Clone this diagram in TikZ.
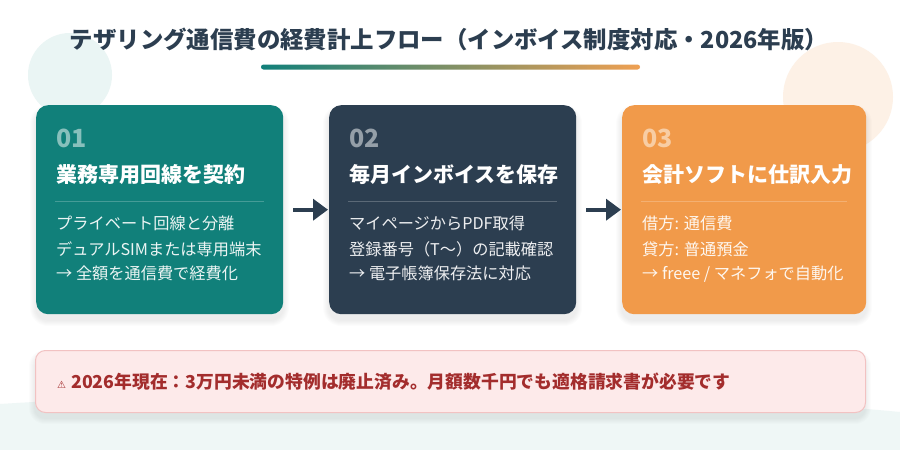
\documentclass[tikz,border=0pt]{standalone}
\usepackage{fontspec}
\setmainfont{Noto Sans CJK JP}
\newfontfamily\symfont{DejaVu Sans}
\usetikzlibrary{calc,arrows.meta}
\definecolor{navy}{HTML}{2C3E50}
\definecolor{tealc}{HTML}{11807A}
\definecolor{orangec}{HTML}{F19A4A}
\definecolor{gradorange}{HTML}{EFA052}
\definecolor{lteal}{HTML}{EAF5F4}
\definecolor{lpeach}{HTML}{FDF1E6}
\definecolor{wavec}{HTML}{EFF7F6}
\definecolor{alertbg}{HTML}{FDEAEA}
\definecolor{alertbd}{HTML}{F2C2C2}
\definecolor{alerttx}{HTML}{A32D2D}
\newcommand{\fs}[1]{\fontsize{#1pt}{#1pt}\selectfont}
\newcommand{\softshadow}[5]{% x1 y1 x2 y2 radius
  \foreach \s in {1,...,6}{
    \fill[black, opacity=0.012, rounded corners=#5pt+\s pt] ($(#1,#2)+(-\s,-\s+6)$) rectangle ($(#3,#4)+(\s,\s+6)$);
  }}
\begin{document}
\begin{tikzpicture}[x=1pt,y=-1pt,
  card/.style={rectangle, rounded corners=12pt, minimum width=247pt, minimum height=209pt, anchor=north west, inner sep=0pt},
  numtxt/.style={anchor=base west, inner sep=0pt, font=\fs{25}\bfseries},
  ttltxt/.style={anchor=base west, inner sep=0pt, font=\fs{21}\bfseries},
  bodytxt/.style={anchor=base west, inner sep=0pt, font=\fs{16.2}},
  flowarrow/.style={draw=navy, line width=4pt, -{Triangle[length=15pt,width=21pt]}, shorten <=10pt, shorten >=1pt}
]
\useasboundingbox (0,0) rectangle (900,450);
\fill[white] (0,0) rectangle (900,450);
% background decorations
\fill[wavec] (0,450) -- (0,404) .. controls (250,388) and (650,388) .. (900,412) -- (900,450) -- cycle;
\fill[lteal] (70,75) circle (42);
\fill[lpeach] (838,97) circle (55);
% title
\node[anchor=base, inner sep=0pt, text=navy, font=\fs{23.4}\bfseries] (title) at (449,48.5)
  {テザリング通信費の経費計上フロー（インボイス制度対応・2026年版）};
\shade[left color=tealc, right color=gradorange, rounded corners=2.5pt] (261,64.5) rectangle (640,69.5);
% shadows
\softshadow{36}{105}{283}{314}{12}
\softshadow{329}{105}{576}{314}{12}
\softshadow{622}{105}{866}{314}{12}
\softshadow{35}{350}{865}{412}{10}
% cards
\newcommand{\card}[9]{%
  \node[card, fill=#3, minimum width=#9pt] (#1) at (#2,105) {};
  \node[numtxt, text=white!50!#3] (#1num) at ($(#1.north west)+(20,42)$) {#4};
  \node[ttltxt, text=white] (#1ttl) at ($(#1.north west)+(20,77.5)$) {#5};
  \draw[white!22!#3, line width=1pt] ($(#1.north west)+(19,96)$) -- ($(#1.north east)+(-19,96)$);
  \node[bodytxt, text=white!92!#3] (#1l1) at ($(#1.north west)+(20,124)$) {#6};
  \node[bodytxt, text=white!92!#3] (#1l2) at ($(#1.north west)+(20,150)$) {#7};
  \node[bodytxt, text=white!92!#3] (#1l3) at ($(#1.north west)+(20,174.5)$) {#8};
}
\card{boxa}{36}{tealc}{01}{業務専用回線を契約}{プライベート回線と分離}{デュアルSIMまたは専用端末}{→ 全額を通信費で経費化}{247}
\card{boxb}{329}{navy}{02}{毎月インボイスを保存}{マイページからPDF取得}{登録番号（T\char"301C）の記載確認}{→ 電子帳簿保存法に対応}{247}
\card{boxc}{622}{orangec}{03}{会計ソフトに仕訳入力}{借方: 通信費}{貸方: 普通預金}{→ freee / マネフォで自動化}{244}
% arrows
\draw[flowarrow] (boxa.east) -- (boxb.west);
\draw[flowarrow] (boxb.east) -- (boxc.west);
% alert
\node[rectangle, rounded corners=10pt, anchor=north west, minimum width=830pt, minimum height=62pt, inner sep=0pt,
  fill=alertbg, draw=alertbd, line width=1pt] (alert) at (35,350) {};
\node[anchor=base west, inner sep=0pt, text=alerttx] (alerttext) at ($(alert.north west)+(22,38.5)$)
  {{\symfont\fs{10}⚠}\hspace{5pt}{\fs{17.8}\bfseries 2026年現在：3万円未満の特例は廃止済み。月額数千円でも適格請求書が必要です}};
\end{tikzpicture}
\end{document}
